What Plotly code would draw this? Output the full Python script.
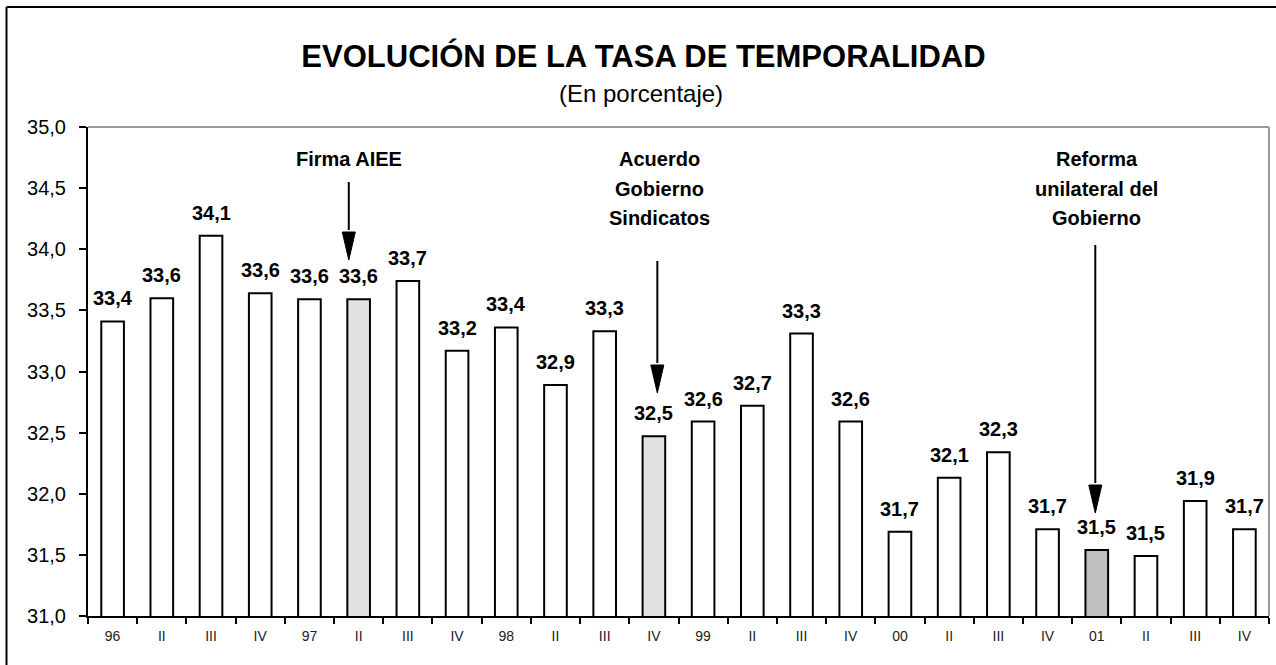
import plotly.graph_objects as go

# ---------------- data ----------------
tick_labels = ["96", "II", "III", "IV", "97", "II", "III", "IV", "98", "II", "III", "IV",
               "99", "II", "III", "IV", "00", "II", "III", "IV", "01", "II", "III", "IV"]
tasa = [33.41, 33.60, 34.11, 33.64, 33.59, 33.59, 33.74, 33.17, 33.36, 32.89, 33.33, 32.47,
        32.59, 32.72, 33.31, 32.59, 31.69, 32.13, 32.34, 31.71, 31.54, 31.49, 31.94, 31.71]
highlight_light = [5, 11]      # AIEE, Acuerdo
highlight_dark = [20]          # Reforma
event_texts = ["Firma AIEE", "Acuerdo<br>Gobierno<br>Sindicatos", "Reforma<br>unilateral del<br>Gobierno"]
event_bars = [5, 11, 20]

# ---------------- layout constants ----------------
W, H = 1276, 665
ML, MR, MT, MB = 88, 7, 127, 49
PW, PH = W - ML - MR, H - MT - MB
Y0, Y1 = 31.0, 35.0
FONT = "Liberation Sans, Arial, sans-serif"

def px2y(py):
    return Y1 - (py - MT) * (Y1 - Y0) / PH

def dx_px(px):
    return px * len(tasa) / PW

def dy_px(px):
    return px * (Y1 - Y0) / PH

def paper_x(px):
    return (px - ML) / PW

def paper_y(py):
    return (H - MB - py) / PH

x = list(range(len(tasa)))
colors = []
for i in x:
    if i in highlight_dark:
        colors.append("#c0c0c0")
    elif i in highlight_light:
        colors.append("#e2e2e2")
    else:
        colors.append("#ffffff")

fig = go.Figure(go.Bar(
    x=x, y=tasa, width=0.46,
    marker=dict(color=colors, line=dict(color="black", width=2)),
    hoverinfo="skip",
))

annotations = []
# data labels
for i, v in zip(x, tasa):
    annotations.append(dict(
        x=i, y=v, xref="x", yref="y", text="<b>" + f"{v:.1f}".replace(".", ",") + "</b>",
        showarrow=False, yanchor="bottom", yshift=10,
        font=dict(family=FONT, size=20, color="black"),
    ))

# events: text lines + arrows
arrow_spec = [  # (x offset in categories, line top px, tip px)
    (-0.2, 182, 260),
    (0.07, 261, 393),
    (-0.03, 245, 513),
]
text_dx = [-0.2, 0.12, 0.0]
shapes = []
for (b, txt, (adx, ptop, ptip), tdx) in zip(event_bars, event_texts, arrow_spec, text_dx):
    for k, line in enumerate(txt.split("<br>")):
        annotations.append(dict(
            x=b + tdx, y=px2y(159 + 29.5 * k), xref="x", yref="y",
            text="<b>" + line + "</b>", showarrow=False,
            font=dict(family=FONT, size=20, color="black"),
        ))
    ax = b + adx
    ytop, ytip = px2y(ptop), px2y(ptip)
    yhead = ytip + dy_px(28)
    hw = dx_px(6.5)
    shapes.append(dict(type="line", xref="x", yref="y", x0=ax, x1=ax, y0=ytop, y1=yhead + dy_px(2),
                       line=dict(color="black", width=2)))
    shapes.append(dict(type="path", xref="x", yref="y",
                       path=f"M {ax - hw},{yhead} L {ax + hw},{yhead} L {ax},{ytip} Z",
                       fillcolor="black", line=dict(color="black", width=1)))

# subtitle
annotations.append(dict(
    x=paper_x(641), y=paper_y(93), xref="paper", yref="paper", text="(En porcentaje)",
    showarrow=False, font=dict(family=FONT, size=24, color="black"),
    xanchor="center", yanchor="middle",
))

# gray plot border (top and right)
shapes.append(dict(type="line", xref="paper", yref="paper", x0=0, x1=1, y0=1, y1=1,
                   line=dict(color="#9a9a9a", width=2), layer="below"))
shapes.append(dict(type="line", xref="paper", yref="paper", x0=1, x1=1, y0=0, y1=1,
                   line=dict(color="#9a9a9a", width=2), layer="below"))
# outer frame (left and top)
fx = paper_x(6.5)
fy = paper_y(7)
shapes.append(dict(type="line", xref="paper", yref="paper", x0=fx, x1=fx, y0=-0.2, y1=fy,
                   line=dict(color="black", width=2)))
shapes.append(dict(type="line", xref="paper", yref="paper", x0=fx, x1=1.05, y0=fy, y1=fy,
                   line=dict(color="black", width=2)))

fig.update_layout(
    width=W, height=H,
    margin=dict(l=ML, r=MR, t=MT, b=MB),
    plot_bgcolor="white", paper_bgcolor="white",
    separators=",.",
    showlegend=False,
    title=dict(text="<b>EVOLUCIÓN DE LA TASA DE TEMPORALIDAD</b>",
               x=643.5 / W, xanchor="center", y=1 - 56 / H, yanchor="middle",
               font=dict(family=FONT, size=31, color="black")),
    annotations=annotations,
    shapes=shapes,
    font=dict(family=FONT, color="black"),
)
fig.update_xaxes(
    range=[-0.5, len(tasa) - 0.5],
    tickmode="array", tickvals=x, ticktext=tick_labels,
    ticks="", showgrid=False, zeroline=False,
    showline=True, linecolor="black", linewidth=2,
    tickfont=dict(family=FONT, size=14, color="#222"),
    ticklabelstandoff=6,
    minor=dict(tick0=-0.5, dtick=1, ticks="outside", ticklen=6, tickwidth=2, tickcolor="black", showgrid=False),
)
fig.update_yaxes(
    range=[Y0, Y1], tick0=Y0, dtick=0.5, tickformat=".1f",
    ticks="outside", ticklen=7, tickwidth=2, tickcolor="black",
    showgrid=False, zeroline=False,
    showline=True, linecolor="black", linewidth=2,
    tickfont=dict(family=FONT, size=20, color="black"),
    ticklabelstandoff=9,
)

fig.write_html("out.html", config={"displayModeBar": False},
               post_script="document.body.style.margin='0';document.body.style.overflow='hidden';")
